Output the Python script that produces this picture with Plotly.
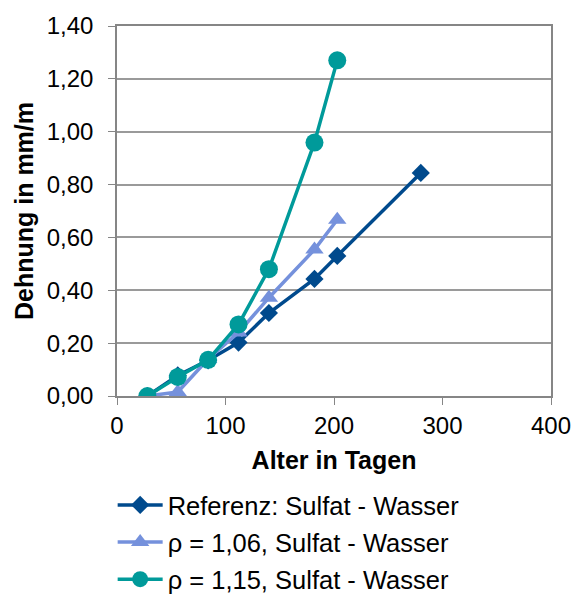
import plotly.graph_objects as go

days_ref = [28, 56, 84, 112, 140, 182, 203, 280]
ref = [0.00, 0.078, 0.135, 0.202, 0.314, 0.443, 0.530, 0.844]

days_106 = [28, 56, 84, 112, 140, 182, 203]
rho_106 = [0.00, 0.015, 0.140, 0.240, 0.372, 0.554, 0.667]

days_115 = [28, 56, 84, 112, 140, 182, 203]
rho_115 = [0.00, 0.072, 0.137, 0.271, 0.480, 0.959, 1.270]

names = ["Referenz: Sulfat - Wasser", "ρ = 1,06, Sulfat - Wasser", "ρ = 1,15, Sulfat - Wasser"]
colors = ["#004A8D", "#7591DC", "#009A9A"]

fig = go.Figure()
fig.add_trace(go.Scatter(x=days_ref, y=ref, name=names[0], mode="lines+markers", legendgroup="a",
                         line=dict(color=colors[0], width=3.5),
                         marker=dict(symbol="diamond", size=14, color=colors[0])))
fig.add_trace(go.Scatter(x=days_106, y=rho_106, name=names[1], mode="lines+markers", legendgroup="b",
                         line=dict(color=colors[1], width=3.5),
                         marker=dict(symbol="triangle-up", size=16, color=colors[1])))
fig.add_trace(go.Scatter(x=days_115, y=rho_115, name=names[2], mode="lines+markers", legendgroup="c",
                         line=dict(color=colors[2], width=3.5),
                         marker=dict(symbol="circle", size=18, color=colors[2])))

fig.update_layout(
    width=575, height=597,
    margin=dict(l=117, r=24, t=26, b=201, autoexpand=False),
    paper_bgcolor="white", plot_bgcolor="white",
    separators=", ",
    font=dict(family="Liberation Sans, Arial, sans-serif", size=24, color="black"),
    showlegend=True,
    legend=dict(x=-0.01, xanchor="left", y=-0.232, yanchor="top",
                font=dict(size=25.5), tracegroupgap=1, itemsizing="trace",
                itemwidth=45, traceorder="grouped"),
    xaxis=dict(range=[0, 400], tickvals=[0, 100, 200, 300, 400], showgrid=False,
               showline=True, linecolor="#868686", linewidth=1.5, mirror=True,
               ticks="outside", ticklen=7, tickcolor="#868686", automargin=False,
               title=dict(text="<b>Alter in Tagen</b>", standoff=14, font=dict(size=25)),
               zeroline=False),
    yaxis=dict(range=[0, 1.4], dtick=0.2, tickformat=".2f", showgrid=True,
               gridcolor="#9A9A9A", gridwidth=1.5,
               showline=True, linecolor="#868686", linewidth=1.5, mirror=True,
               ticks="outside", ticklen=7, tickcolor="#868686", ticklabelstandoff=10,
               automargin=False,
               title=dict(text="<b>Dehnung in mm/m</b>", standoff=6, font=dict(size=25)),
               zeroline=False),
)

fig.write_html("out.html")
